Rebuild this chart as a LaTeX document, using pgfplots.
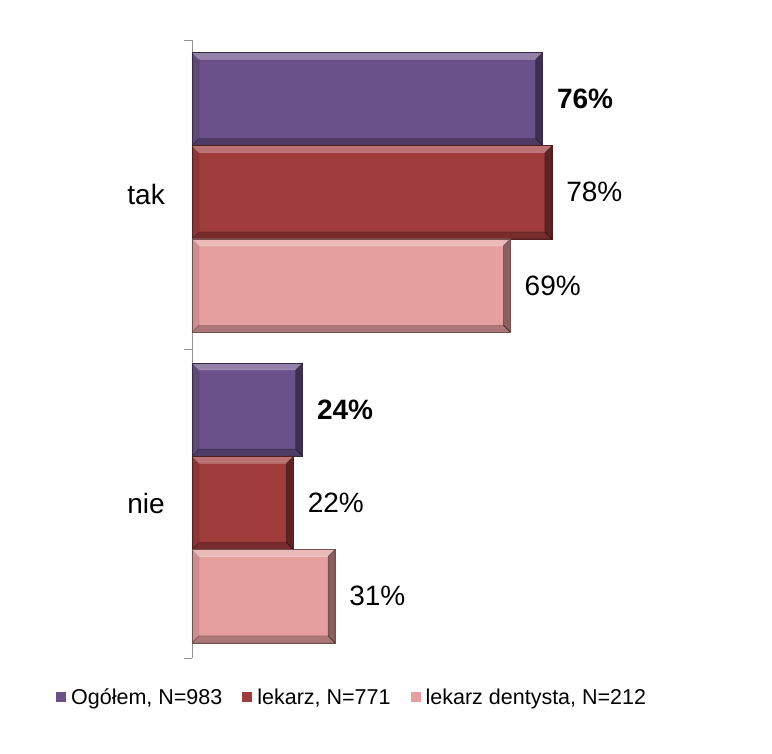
\documentclass[border=0pt]{standalone}
\usepackage{pgfplots}
\pgfplotsset{compat=1.18}
\usepackage{fontspec}
\setmainfont{Liberation Sans}
\definecolor{cpurple}{RGB}{106,81,137}
\definecolor{cred}{RGB}{161,60,60}
\definecolor{cpink}{RGB}{230,159,159}
\tikzset{bevel/.style={postaction={path picture={
  \coordinate (nw) at (path picture bounding box.north west);
  \coordinate (ne) at (path picture bounding box.north east);
  \coordinate (sw) at (path picture bounding box.south west);
  \coordinate (se) at (path picture bounding box.south east);
  \fill[white,opacity=0.28] (nw) -- (ne) -- ([xshift=-7pt,yshift=-7pt]ne) -- ([xshift=7pt,yshift=-7pt]nw) -- cycle;
  \fill[black,opacity=0.40] (ne) -- (se) -- ([xshift=-7pt,yshift=7pt]se) -- ([xshift=-7pt,yshift=-7pt]ne) -- cycle;
  \fill[black,opacity=0.25] (se) -- (sw) -- ([xshift=7pt,yshift=7pt]sw) -- ([xshift=-7pt,yshift=7pt]se) -- cycle;
  \fill[black,opacity=0.10] (sw) -- (nw) -- ([xshift=7pt,yshift=-7pt]nw) -- ([xshift=7pt,yshift=7pt]sw) -- cycle;
}}}}
\newcommand{\legsq}[1]{\pgfsetfillcolor{#1}\pgfpathrectangle{\pgfpoint{0pt}{-5pt}}{\pgfpoint{10pt}{10pt}}\pgfusepath{fill}}
\begin{document}
\begin{tikzpicture}
\useasboundingbox (-192pt,-96pt) rectangle (580pt,658pt);
\begin{axis}[
  at={(0pt,0pt)}, anchor=south west,
  scale only axis, width=461.5pt, height=618pt,
  xmin=0, xmax=100, ymin=-0.5, ymax=1.5,
  axis x line=none,
  axis y line*=left,
  axis line style={draw=gray!85},
  ytick={-0.5,0.5,1.5}, yticklabels={,,},
  major tick length=8pt, tick align=outside,
  tick style={draw=gray!85},
  extra y ticks={0,1}, extra y tick labels={nie,tak},
  extra y tick style={major tick length=0pt, tick style={draw=none}},
  y tick label style={font=\fontsize{28}{28}\selectfont, inner sep=0pt, xshift=-27pt},
  /pgf/number format/assume math mode=true,
  point meta=x,
  nodes near coords={\pgfmathprintnumber{\pgfplotspointmeta}\%},
  every node near coord/.append style={font=\fontsize{28}{28}\selectfont, anchor=west, inner sep=0pt, xshift=14pt, text=black},
  legend style={at={(axis description cs:-0.2947,-0.0631)}, anchor=west, draw=none, inner sep=0pt,
    font=\fontsize{21.5}{24}\selectfont,
    /tikz/every odd column/.append style={column sep=3pt},
    /tikz/every even column/.append style={column sep=18pt}},
  legend columns=3,
  clip=false,
]
\addplot[xbar, bar width=0.302, bar shift=0pt, fill=cpurple, draw=cpurple!50!black, line width=0.6pt, bevel,
  legend image code/.code={\legsq{cpurple}},
  every node near coord/.append style={font=\bfseries\fontsize{28}{28}\selectfont}]
  coordinates {(76,1.309)};
\addlegendentry{Ogółem, N=983}
\addplot[xbar, bar width=0.302, bar shift=0pt, fill=cred, draw=cred!50!black, line width=0.6pt, bevel,
  legend image code/.code={\legsq{cred}}]
  coordinates {(78,1.007)};
\addlegendentry{lekarz, N=771}
\addplot[xbar, bar width=0.302, bar shift=0pt, fill=cpink, draw=cpink!50!black, line width=0.6pt, bevel,
  legend image code/.code={\legsq{cpink}}]
  coordinates {(69,0.705)};
\addlegendentry{lekarz dentysta, N=212}
\addplot[forget plot, xbar, bar width=0.302, bar shift=0pt, fill=cpurple, draw=cpurple!50!black, line width=0.6pt, bevel,
  every node near coord/.append style={font=\bfseries\fontsize{28}{28}\selectfont}]
  coordinates {(24,0.304)};
\addplot[forget plot, xbar, bar width=0.302, bar shift=0pt, fill=cred, draw=cred!50!black, line width=0.6pt, bevel]
  coordinates {(22,0.002)};
\addplot[forget plot, xbar, bar width=0.302, bar shift=0pt, fill=cpink, draw=cpink!50!black, line width=0.6pt, bevel]
  coordinates {(31,-0.300)};
\end{axis}
\end{tikzpicture}
\end{document}
